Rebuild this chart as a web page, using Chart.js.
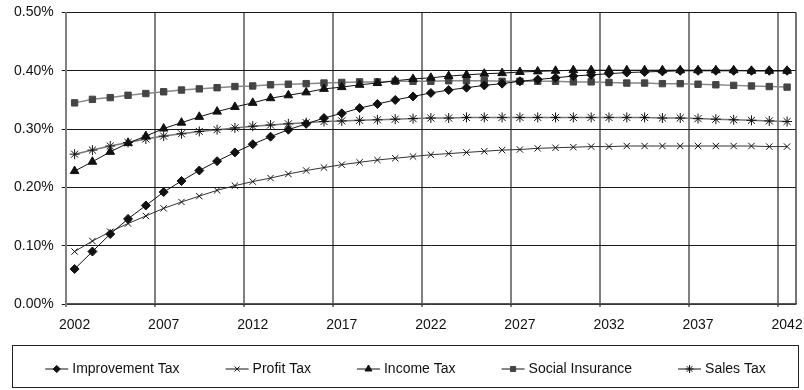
<!DOCTYPE html>
<html>
<head>
<meta charset="utf-8">
<script src="https://cdn.jsdelivr.net/npm/chart.js@4.4.1/dist/chart.umd.min.js"></script>
<style>
  html, body { margin: 0; padding: 0; background: #fff; }
</style>
</head>
<body>
<canvas id="chart" width="804" height="390"></canvas>
<script>
// Categories (one per year)
const years = [
    '2002', '2003', '2004', '2005', '2006', '2007', '2008', '2009', '2010', '2011',
    '2012', '2013', '2014', '2015', '2016', '2017', '2018', '2019', '2020', '2021',
    '2022', '2023', '2024', '2025', '2026', '2027', '2028', '2029', '2030', '2031',
    '2032', '2033', '2034', '2035', '2036', '2037', '2038', '2039', '2040', '2041',
    '2042'
];

// Series values, in percent
const improvementTax = [
    0.060, 0.090, 0.120, 0.146, 0.169, 0.192, 0.211, 0.229, 0.245, 0.260,
    0.274, 0.287, 0.299, 0.309, 0.319, 0.327, 0.336, 0.343, 0.350, 0.356,
    0.362, 0.367, 0.371, 0.375, 0.378, 0.382, 0.385, 0.388, 0.391, 0.393,
    0.395, 0.397, 0.398, 0.399, 0.400, 0.400, 0.400, 0.400, 0.400, 0.400,
    0.400
];
const profitTax = [
    0.090, 0.108, 0.124, 0.138, 0.151, 0.164, 0.175, 0.185, 0.195, 0.203,
    0.210, 0.216, 0.223, 0.229, 0.234, 0.239, 0.243, 0.247, 0.250, 0.253,
    0.256, 0.258, 0.260, 0.262, 0.264, 0.265, 0.267, 0.268, 0.269, 0.270,
    0.270, 0.271, 0.271, 0.271, 0.271, 0.271, 0.271, 0.271, 0.271, 0.270,
    0.270
];
const incomeTax = [
    0.228, 0.244, 0.261, 0.276, 0.288, 0.301, 0.311, 0.321, 0.330, 0.338,
    0.345, 0.353, 0.358, 0.363, 0.369, 0.372, 0.376, 0.379, 0.383, 0.386,
    0.388, 0.391, 0.393, 0.395, 0.396, 0.398, 0.399, 0.400, 0.401, 0.401,
    0.401, 0.401, 0.401, 0.401, 0.401, 0.401, 0.401, 0.401, 0.400, 0.400,
    0.400
];
const socialInsurance = [
    0.345, 0.351, 0.354, 0.358, 0.361, 0.364, 0.367, 0.369, 0.371, 0.373,
    0.374, 0.376, 0.377, 0.378, 0.379, 0.380, 0.381, 0.381, 0.382, 0.382,
    0.382, 0.383, 0.383, 0.383, 0.382, 0.382, 0.382, 0.382, 0.381, 0.381,
    0.380, 0.379, 0.379, 0.378, 0.378, 0.377, 0.376, 0.375, 0.374, 0.373,
    0.372
];
const salesTax = [
    0.257, 0.264, 0.271, 0.277, 0.283, 0.288, 0.292, 0.296, 0.299, 0.302,
    0.305, 0.307, 0.309, 0.311, 0.313, 0.314, 0.315, 0.316, 0.317, 0.318,
    0.319, 0.319, 0.320, 0.320, 0.320, 0.320, 0.320, 0.320, 0.320, 0.320,
    0.320, 0.320, 0.320, 0.319, 0.319, 0.318, 0.317, 0.316, 0.315, 0.314,
    0.313
];

// Y axis ticks
const yTicks = [0, 0.1, 0.2, 0.3, 0.4, 0.5];

const FONT = '"Liberation Sans", Arial, Helvetica, sans-serif';

// Right edge of the plot frame
const frameRight = {
    id: 'frameRight',
    beforeDatasetsDraw(chart) {
        const { ctx, chartArea } = chart;
        ctx.save();
        ctx.strokeStyle = '#444';
        ctx.lineWidth = 1.5;
        ctx.beginPath();
        ctx.moveTo(chartArea.right, chartArea.top);
        ctx.lineTo(chartArea.right, chartArea.bottom);
        ctx.stroke();
        ctx.restore();
    }
};

// Boxed legend, one row
const boxLegend = {
    id: 'boxLegend',
    afterDraw(chart) {
        const { ctx } = chart;
        const left = 12.5;
        const top = 345.5;
        const right = chart.width - 5.5;
        const bottom = chart.height - 2.5;
        const y = 369;
        const lineLen = 23;
        const textGap = 4;
        const itemGap = 46;

        ctx.save();
        ctx.strokeStyle = '#222';
        ctx.lineWidth = 1;
        ctx.strokeRect(left, top, right - left, bottom - top);

        ctx.font = '14px ' + FONT;
        const items = chart.data.datasets.map(ds => ({
            ds,
            w: lineLen + textGap + ctx.measureText(ds.label).width
        }));
        const total = items.reduce((s, it) => s + it.w, 0) + itemGap * (items.length - 1);
        let x = (left + right) / 2 - total / 2;

        items.forEach(({ ds, w }) => {
            ctx.strokeStyle = '#111';
            ctx.lineWidth = 1;
            ctx.beginPath();
            ctx.moveTo(x, y);
            ctx.lineTo(x + lineLen, y);
            ctx.stroke();

            ctx.fillStyle = ds.pointBackgroundColor;
            ctx.strokeStyle = ds.pointBorderColor;
            ctx.lineWidth = 1;
            if (Chart.helpers && Chart.helpers.drawPoint) {
                Chart.helpers.drawPoint(ctx, {
                    pointStyle: ds.pointStyle,
                    radius: ds.pointRadius * 0.8,
                    borderWidth: 1,
                    rotation: 0
                }, x + lineLen / 2, y);
            } else {
                ctx.fillRect(x + lineLen / 2 - 3, y - 3, 6, 6);
            }

            ctx.fillStyle = '#111';
            ctx.textBaseline = 'middle';
            ctx.textAlign = 'left';
            ctx.fillText(ds.label, x + lineLen + textGap, y);
            x += w + itemGap;
        });
        ctx.restore();
    }
};

function series(label, data, style) {
    return Object.assign({
        label,
        data,
        tension: 0,
        fill: false,
        borderWidth: 1,
        pointBorderWidth: 1,
        pointHoverRadius: 0
    }, style);
}

new Chart(document.getElementById('chart'), {
    type: 'line',
    data: {
        labels: years,
        datasets: [
            series('Improvement Tax', improvementTax, {
                borderColor: '#111',
                pointStyle: 'rectRot',
                pointRadius: 4.5,
                pointBackgroundColor: '#111',
                pointBorderColor: '#111'
            }),
            series('Profit Tax', profitTax, {
                borderColor: '#333',
                pointStyle: 'crossRot',
                pointRadius: 4.5,
                pointBackgroundColor: '#111',
                pointBorderColor: '#111'
            }),
            series('Income Tax', incomeTax, {
                borderColor: '#111',
                pointStyle: 'triangle',
                pointRadius: 5,
                pointBackgroundColor: '#111',
                pointBorderColor: '#111'
            }),
            series('Social Insurance', socialInsurance, {
                borderColor: '#888',
                borderWidth: 1.5,
                pointStyle: 'rect',
                pointRadius: 4.5,
                pointBackgroundColor: '#444',
                pointBorderColor: '#444'
            }),
            series('Sales Tax', salesTax, {
                borderColor: '#777',
                borderWidth: 1.5,
                pointStyle: 'star',
                pointRadius: 5,
                pointBackgroundColor: '#111',
                pointBorderColor: '#111'
            })
        ]
    },
    options: {
        responsive: false,
        animation: false,
        layout: {
            padding: { top: 12.5, left: 10, right: 8, bottom: 50 }
        },
        plugins: {
            legend: { display: false },
            tooltip: { enabled: false }
        },
        scales: {
            x: {
                type: 'category',
                offset: true,
                afterFit: scale => {
                    scale.height = 36;
                    scale.paddingLeft = 0;
                    scale.paddingRight = 0;
                },
                grid: {
                    offset: true,
                    drawTicks: true,
                    tickLength: 3,
                    color: ctx => (ctx.index % 5 === 0 ? '#808080' : 'rgba(0,0,0,0)'),
                    lineWidth: 2
                },
                border: { display: true, color: '#555', width: 1.5 },
                ticks: {
                    autoSkip: false,
                    maxRotation: 0,
                    padding: 10,
                    color: '#111',
                    font: { family: FONT, size: 14 },
                    callback: (value, index) => (index % 5 === 0 ? years[index] : '')
                }
            },
            y: {
                min: 0,
                max: 0.5,
                afterFit: scale => {
                    scale.width = 55.7;
                    scale.paddingTop = 0;
                    scale.paddingBottom = 0;
                },
                afterBuildTicks: scale => {
                    scale.ticks = yTicks.map(v => ({ value: v }));
                },
                grid: {
                    color: '#1a1a1a',
                    lineWidth: 1,
                    tickLength: 4
                },
                border: { display: true, color: '#808080', width: 2 },
                ticks: {
                    padding: 8,
                    color: '#111',
                    font: { family: FONT, size: 14 },
                    callback: value => value.toFixed(2) + '%'
                }
            }
        }
    },
    plugins: [frameRight, boxLegend]
});
</script>
</body>
</html>
